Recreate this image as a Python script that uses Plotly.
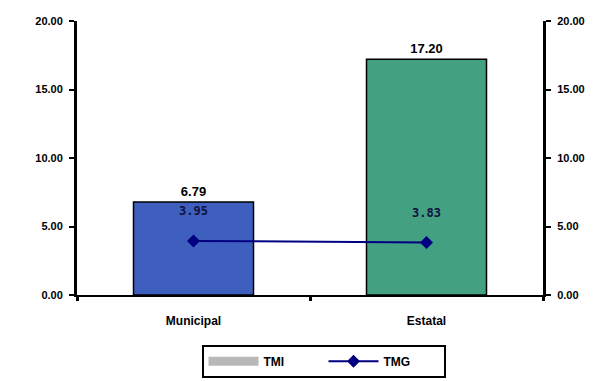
import plotly.graph_objects as go

categories = ["Municipal", "Estatal"]
tmi_values = [6.79, 17.20]
tmg_values = [3.95, 3.83]
bar_colors = ["#3F5FBF", "#43A080"]
tick_vals = [0, 5, 10, 15, 20]
tick_text = ["0.00", "5.00", "10.00", "15.00", "20.00"]

FONT = "Liberation Sans, Arial, sans-serif"

fig = go.Figure()

fig.add_trace(go.Bar(
    x=categories, y=tmi_values, name="TMI", showlegend=False,
    marker=dict(color=bar_colors, line=dict(color="black", width=1.5)),
    width=0.515,
    text=[f"{v:.2f}" for v in tmi_values], textposition="outside",
    textfont=dict(family=FONT, size=13, color="black", weight="bold"),
    cliponaxis=False,
))

# legend entry for the bar series (grey swatch, as in the original)
fig.add_trace(go.Scatter(
    x=[None], y=[None], name="TMI", mode="lines",
    line=dict(color="#B8B8B8", width=9),
))

fig.add_trace(go.Scatter(
    x=categories, y=tmg_values, name="TMG", yaxis="y2",
    mode="lines+markers+text",
    line=dict(color="#000080", width=2),
    marker=dict(symbol="diamond", size=10, color="#000080"),
    text=[f"{v:.2f}<br> " for v in tmg_values], textposition="top center",
    textfont=dict(family="DejaVu Sans Mono, monospace", size=12, color="#101040", weight="bold"),
    cliponaxis=False,
))

axis_common = dict(
    range=[0, 20], tickvals=tick_vals, ticktext=tick_text,
    showgrid=False, zeroline=False,
    showline=True, linecolor="black", linewidth=3,
    ticks="outside", ticklen=5, tickwidth=2, tickcolor="black",
    ticklabelstandoff=4,
    tickfont=dict(family=FONT, size=11, color="black", weight="bold"),
)

fig.update_layout(
    width=607, height=381,
    margin=dict(l=77, r=64, t=21, b=86, autoexpand=False),
    paper_bgcolor="white", plot_bgcolor="white",
    barmode="overlay",
    xaxis=dict(
        showline=True, linecolor="black", linewidth=2,
        ticks="outside", tickson="boundaries", ticklen=4, tickwidth=3, tickcolor="black",
        ticklabelstandoff=14,
        showgrid=False,
        tickfont=dict(family=FONT, size=12, color="black", weight="bold"),
    ),
    yaxis=axis_common,
    yaxis2=dict(overlaying="y", side="right", **axis_common),
    legend=dict(
        orientation="h", x=0.529, xanchor="center", y=-0.182, yanchor="top",
        bordercolor="black", borderwidth=2, bgcolor="white",
        font=dict(family=FONT, size=12, color="black", weight="bold"),
        itemwidth=50, entrywidth=55,
    ),
)

fig.write_html("out.html")
